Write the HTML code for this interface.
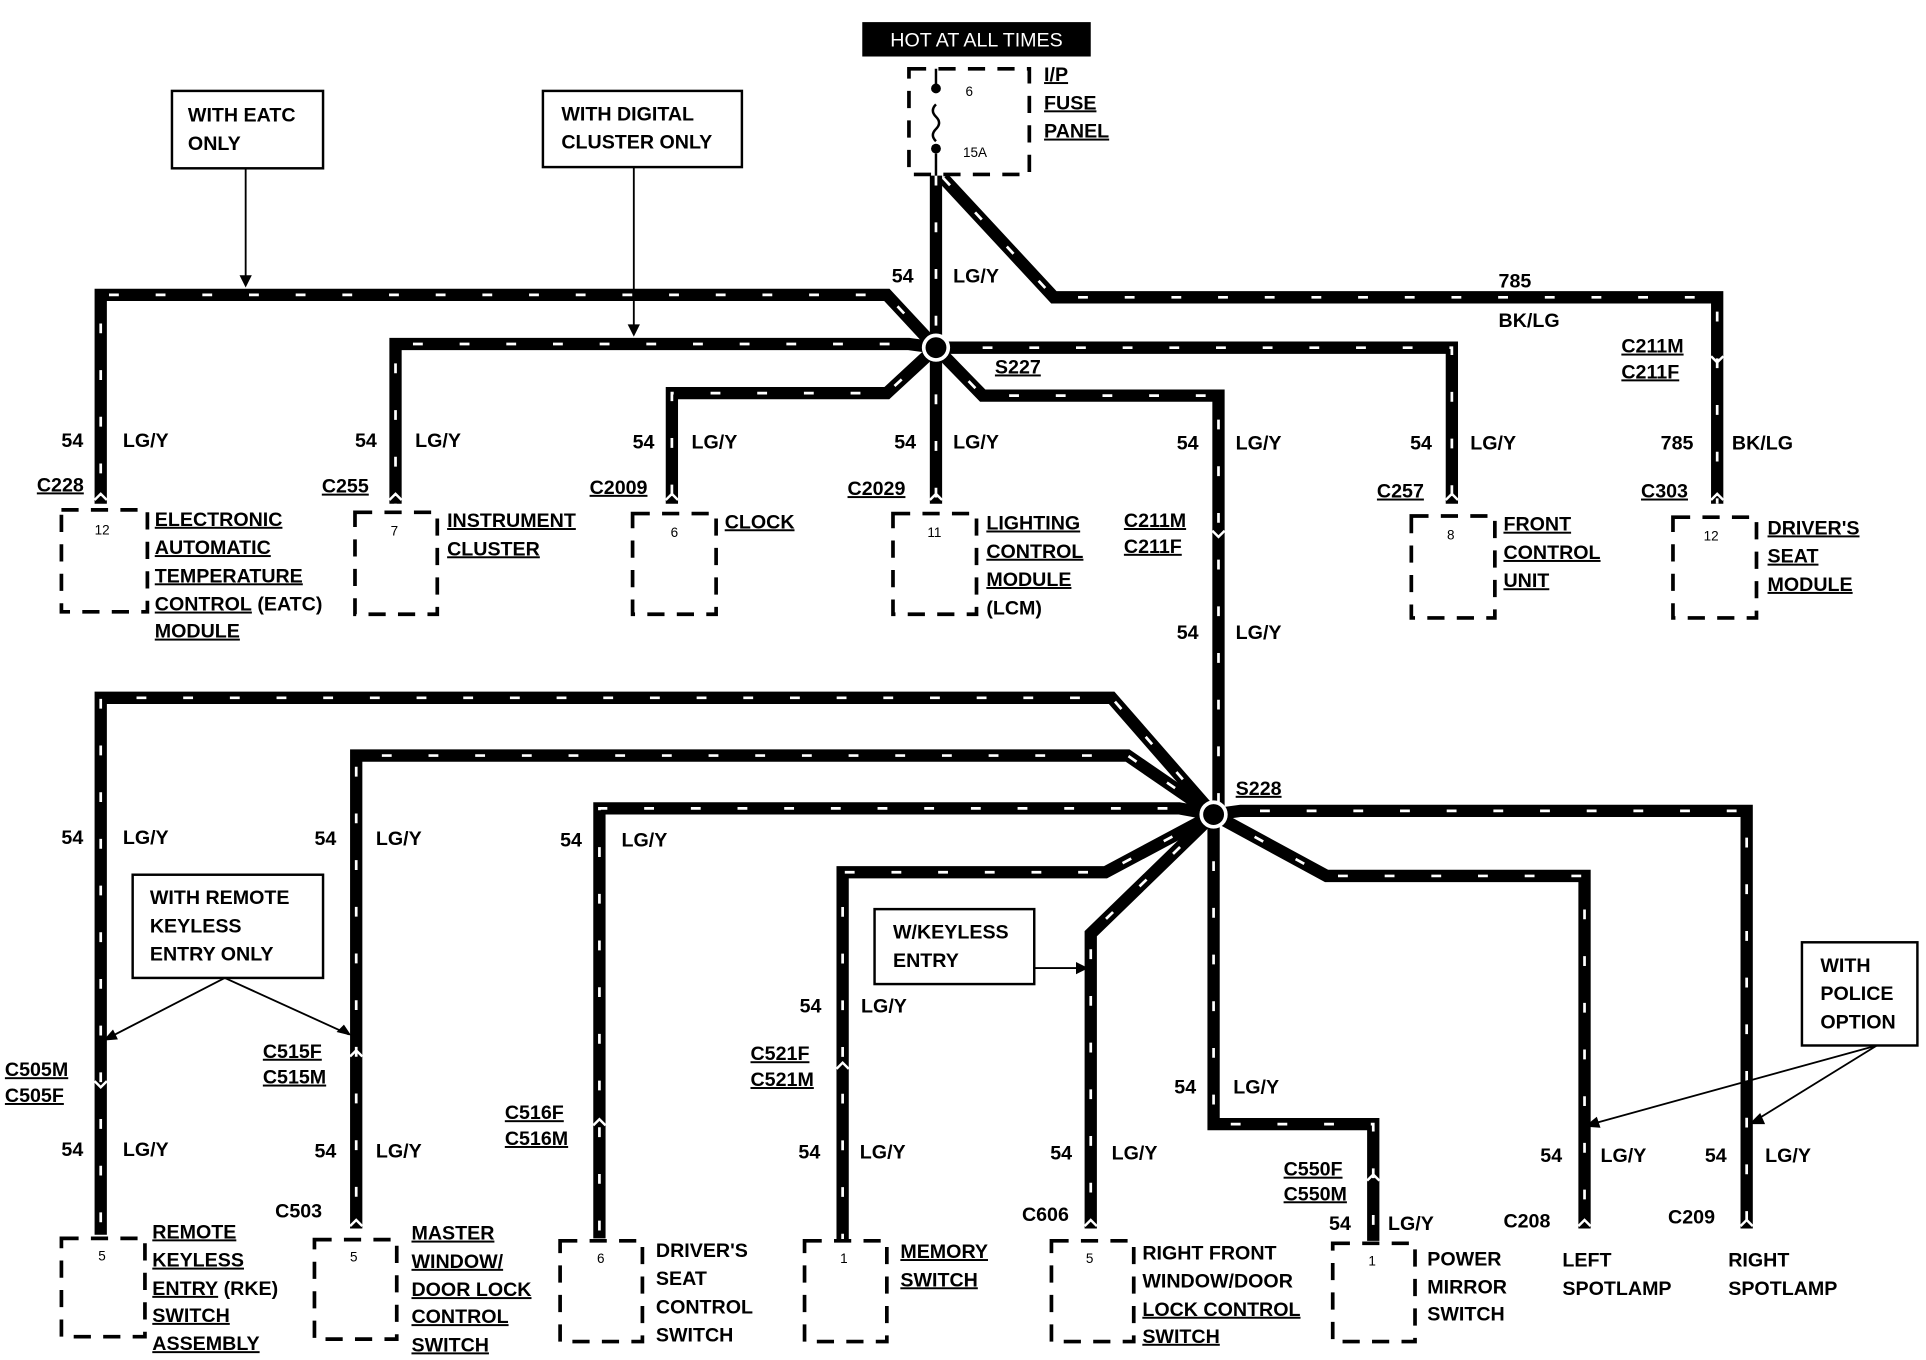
<!DOCTYPE html>
<html><head><meta charset="utf-8"><style>
html,body{margin:0;padding:0;background:#fff;}
svg{display:block}
text{font-family:"Liberation Sans",Arial,sans-serif;font-weight:bold;font-size:16px;fill:#000}
.u{text-decoration:underline}
.s{font-size:11px;font-weight:normal}
</style></head><body>
<svg width="1926" height="1360" viewBox="0 0 1568 1107" preserveAspectRatio="none" xmlns="http://www.w3.org/2000/svg">
<defs>
<g id="w" fill="none">
<path d="M762 143 V283"/>
<path d="M768 145 L858 242 H1398 V410"/>
<path d="M762 283 L722 240 H82 V410"/>
<path d="M762 283 L740 280 H322 V410"/>
<path d="M762 283 L722 320 H547 V410"/>
<path d="M762 283 V410"/>
<path d="M762 283 H1182 V410"/>
<path d="M762 283 L800 322 H992 V663"/>
<path d="M988 663 L905 568 H82 V1005"/>
<path d="M988 663 L918 615 H290 V1000"/>
<path d="M988 663 L960 658 H488 V1008"/>
<path d="M988 663 L900 710 H686 V1010"/>
<path d="M988 663 L888 760 V1000"/>
<path d="M988 663 V915 H1118 V1010"/>
<path d="M988 663 L1080 713 H1290 V1000"/>
<path d="M988 663 L1010 660 H1422 V1000"/>
</g>
</defs>
<use href="#w" stroke="#000" stroke-width="10" stroke-linejoin="miter"/>
<use href="#w" stroke="#fff" stroke-width="2.2" stroke-dasharray="8 30"/>
<!-- splices -->
<circle cx="762" cy="283" r="10" fill="#000" stroke="#fff" stroke-width="3"/>
<circle cx="988" cy="663" r="10" fill="#000" stroke="#fff" stroke-width="3"/>

<!-- hot box -->
<rect x="702" y="18" width="186" height="28" fill="#000"/>
<text x="795" y="38" text-anchor="middle" style="fill:#fff;font-weight:normal;font-size:16px">HOT AT ALL TIMES</text>
<!-- fuse -->
<rect x="740" y="56" width="98" height="86" fill="#fff" stroke="#000" stroke-width="3" stroke-dasharray="14 10"/>
<path d="M762 56 V70 M762 85 q-5 5 0 10 q5 5 0 10 q-5 5 0 10 M762 125 V143" stroke="#000" stroke-width="2" fill="none"/>
<circle cx="762" cy="72" r="4"/><circle cx="762" cy="121" r="4"/>
<text x="786" y="78" class="s">6</text><text x="784" y="128" class="s">15A</text>
<text x="850" y="66" class="u">I/P</text><text x="850" y="89" class="u">FUSE</text><text x="850" y="112" class="u">PANEL</text>

<!-- note boxes -->
<g fill="#fff" stroke="#000" stroke-width="2">
<rect x="140" y="74" width="123" height="63"/>
<rect x="442" y="74" width="162" height="62"/>
<rect x="108" y="712" width="155" height="84"/>
<rect x="712" y="740" width="130" height="61"/>
<rect x="1467" y="767" width="94" height="84"/>
</g>
<text x="153" y="99">WITH EATC</text><text x="153" y="122">ONLY</text>
<text x="457" y="98">WITH DIGITAL</text><text x="457" y="121">CLUSTER ONLY</text>
<text x="122" y="736">WITH REMOTE</text><text x="122" y="759">KEYLESS</text><text x="122" y="782">ENTRY ONLY</text>
<text x="727" y="764">W/KEYLESS</text><text x="727" y="787">ENTRY</text>
<text x="1482" y="791">WITH</text><text x="1482" y="814">POLICE</text><text x="1482" y="837">OPTION</text>
<!-- arrows -->
<g stroke="#000" stroke-width="1.5" fill="none">
<path d="M200 137 V232 M516 136 V272 M183 796 L86 846 M183 796 L284 842 M842 788 H884 M1528 851 L1292 916 M1528 851 L1426 914"/>
</g>
<g fill="#000">
<path d="M195 224 L200 234 L205 224Z"/><path d="M511 264 L516 274 L521 264Z"/>
<path d="M92 838 L84 847 L96 846Z"/><path d="M274 840 L286 843 L280 834Z"/>
<path d="M876 783 L886 788 L876 793Z"/><path d="M1300 909 L1290 917 L1303 918Z"/><path d="M1433 906 L1424 915 L1437 915Z"/>
</g>

<!-- connectors (white notches) -->
<g stroke="#fff" stroke-width="2" fill="none">
<path d="M77 407 l5 -5 5 5 M317 407 l5 -5 5 5 M542 407 l5 -5 5 5 M757 407 l5 -5 5 5 M1177 407 l5 -5 5 5 M1393 407 l5 -5 5 5"/>
<path d="M1393 290 l5 5 5 -5 M987 432 l5 5 5 -5 M77 880 l5 5 5 -5"/>
<path d="M285 860 l5 -5 5 5 M483 916 l5 -5 5 5 M681 870 l5 -5 5 5 M1113 961 l5 -5 5 5"/>
<path d="M285 998 l5 -5 5 5 M883 998 l5 -5 5 5 M1285 998 l5 -5 5 5 M1417 998 l5 -5 5 5"/>
</g>

<!-- component boxes -->
<g fill="#fff" stroke="#000" stroke-width="3" stroke-dasharray="14 10">
<rect x="50" y="415" width="70" height="83"/>
<rect x="289" y="417" width="67" height="83"/>
<rect x="515" y="418" width="68" height="82"/>
<rect x="727" y="418" width="68" height="82"/>
<rect x="1149" y="420" width="68" height="83"/>
<rect x="1362" y="421" width="68" height="82"/>
<rect x="50" y="1008" width="68" height="80"/>
<rect x="256" y="1009" width="67" height="81"/>
<rect x="456" y="1010" width="67" height="82"/>
<rect x="655" y="1010" width="67" height="82"/>
<rect x="856" y="1010" width="67" height="82"/>
<rect x="1085" y="1012" width="67" height="80"/>
</g>
<g class="s">
<text x="77" y="435" class="s">12</text><text x="318" y="436" class="s">7</text><text x="546" y="437" class="s">6</text>
<text x="755" y="437" class="s">11</text><text x="1178" y="439" class="s">8</text><text x="1387" y="440" class="s">12</text>
<text x="80" y="1026" class="s">5</text><text x="285" y="1027" class="s">5</text><text x="486" y="1028" class="s">6</text>
<text x="684" y="1028" class="s">1</text><text x="884" y="1028" class="s">5</text><text x="1114" y="1030" class="s">1</text>
</g>

<!-- wire labels -->
<text x="50" y="364">54</text><text x="100" y="364">LG/Y</text>
<text x="289" y="364">54</text><text x="338" y="364">LG/Y</text>
<text x="515" y="365">54</text><text x="563" y="365">LG/Y</text>
<text x="728" y="365">54</text><text x="776" y="365">LG/Y</text>
<text x="726" y="230">54</text><text x="776" y="230">LG/Y</text>
<text x="1220" y="234">785</text><text x="1220" y="266">BK/LG</text>
<text x="958" y="366">54</text><text x="1006" y="366">LG/Y</text>
<text x="1148" y="366">54</text><text x="1197" y="366">LG/Y</text>
<text x="1352" y="366">785</text><text x="1410" y="366">BK/LG</text>
<text x="958" y="520">54</text><text x="1006" y="520">LG/Y</text>
<text x="50" y="687">54</text><text x="100" y="687">LG/Y</text>
<text x="256" y="688">54</text><text x="306" y="688">LG/Y</text>
<text x="456" y="689">54</text><text x="506" y="689">LG/Y</text>
<text x="651" y="824">54</text><text x="701" y="824">LG/Y</text>
<text x="956" y="890">54</text><text x="1004" y="890">LG/Y</text>
<text x="50" y="941">54</text><text x="100" y="941">LG/Y</text>
<text x="256" y="942">54</text><text x="306" y="942">LG/Y</text>
<text x="650" y="943">54</text><text x="700" y="943">LG/Y</text>
<text x="855" y="944">54</text><text x="905" y="944">LG/Y</text>
<text x="1082" y="1001">54</text><text x="1130" y="1001">LG/Y</text>
<text x="1254" y="946">54</text><text x="1303" y="946">LG/Y</text>
<text x="1388" y="946">54</text><text x="1437" y="946">LG/Y</text>

<!-- connector labels -->
<text x="30" y="400" class="u">C228</text><text x="262" y="401" class="u">C255</text>
<text x="480" y="402" class="u">C2009</text><text x="690" y="403" class="u">C2029</text>
<text x="1121" y="405" class="u">C257</text><text x="1336" y="405" class="u">C303</text>
<text x="1320" y="287" class="u">C211M</text><text x="1320" y="308" class="u">C211F</text>
<text x="915" y="429" class="u">C211M</text><text x="915" y="450" class="u">C211F</text>
<text x="810" y="304" class="u">S227</text><text x="1006" y="647" class="u">S228</text>
<text x="4" y="876" class="u">C505M</text><text x="4" y="897" class="u">C505F</text>
<text x="214" y="861" class="u">C515F</text><text x="214" y="882" class="u">C515M</text>
<text x="411" y="911" class="u">C516F</text><text x="411" y="932" class="u">C516M</text>
<text x="611" y="863" class="u">C521F</text><text x="611" y="884" class="u">C521M</text>
<text x="1045" y="957" class="u">C550F</text><text x="1045" y="977" class="u">C550M</text>
<text x="224" y="991">C503</text><text x="832" y="994">C606</text>
<text x="1224" y="999">C208</text><text x="1358" y="996">C209</text>

<!-- component labels -->
<text x="126" y="428" class="u">ELECTRONIC</text><text x="126" y="451" class="u">AUTOMATIC</text>
<text x="126" y="474" class="u">TEMPERATURE</text><text x="126" y="497"><tspan class="u">CONTROL</tspan> (EATC)</text>
<text x="126" y="519" class="u">MODULE</text>
<text x="364" y="429" class="u">INSTRUMENT</text><text x="364" y="452" class="u">CLUSTER</text>
<text x="590" y="430" class="u">CLOCK</text>
<text x="803" y="431" class="u">LIGHTING</text><text x="803" y="454" class="u">CONTROL</text>
<text x="803" y="477" class="u">MODULE</text><text x="803" y="500">(LCM)</text>
<text x="1224" y="432" class="u">FRONT</text><text x="1224" y="455" class="u">CONTROL</text><text x="1224" y="478" class="u">UNIT</text>
<text x="1439" y="435" class="u">DRIVER'S</text><text x="1439" y="458" class="u">SEAT</text><text x="1439" y="481" class="u">MODULE</text>
<text x="124" y="1008" class="u">REMOTE</text><text x="124" y="1031" class="u">KEYLESS</text>
<text x="124" y="1054"><tspan class="u">ENTRY</tspan> (RKE)</text><text x="124" y="1076" class="u">SWITCH</text>
<text x="124" y="1099" class="u">ASSEMBLY</text>
<text x="335" y="1009" class="u">MASTER</text><text x="335" y="1032" class="u">WINDOW/</text>
<text x="335" y="1055" class="u">DOOR LOCK</text><text x="335" y="1077" class="u">CONTROL</text>
<text x="335" y="1100" class="u">SWITCH</text>
<text x="534" y="1023">DRIVER'S</text><text x="534" y="1046">SEAT</text>
<text x="534" y="1069">CONTROL</text><text x="534" y="1092">SWITCH</text>
<text x="733" y="1024" class="u">MEMORY</text><text x="733" y="1047" class="u">SWITCH</text>
<text x="930" y="1025">RIGHT FRONT</text><text x="930" y="1048">WINDOW/DOOR</text>
<text x="930" y="1071" class="u">LOCK CONTROL</text><text x="930" y="1093" class="u">SWITCH</text>
<text x="1162" y="1030">POWER</text><text x="1162" y="1053">MIRROR</text><text x="1162" y="1075">SWITCH</text>
<text x="1272" y="1031">LEFT</text><text x="1272" y="1054">SPOTLAMP</text>
<text x="1407" y="1031">RIGHT</text><text x="1407" y="1054">SPOTLAMP</text>
</svg>
</body></html>
